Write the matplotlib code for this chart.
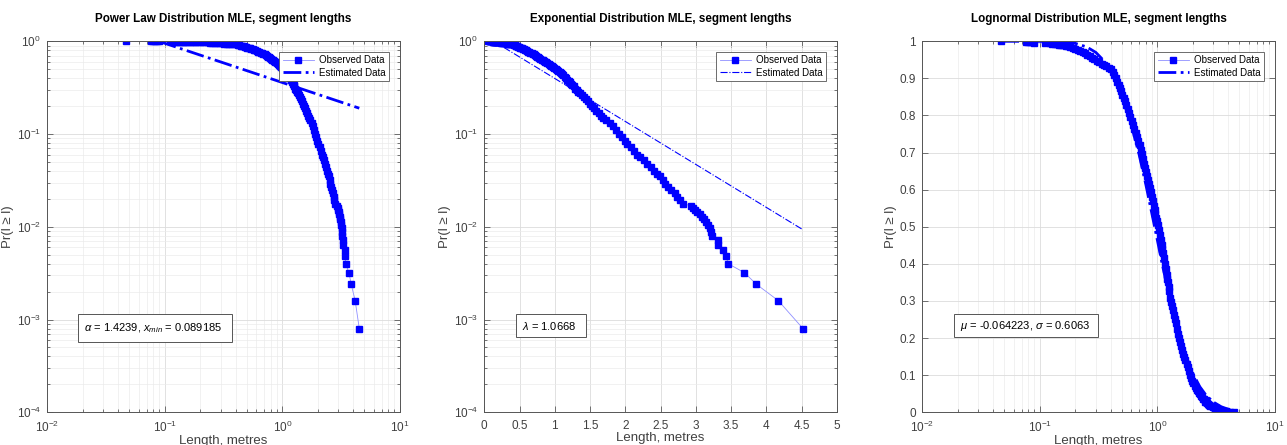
import numpy as np
import matplotlib
matplotlib.use('Agg')
import matplotlib.pyplot as plt
from matplotlib.patches import Rectangle
from matplotlib.ticker import FuncFormatter

plt.rcParams['font.family'] = ['Liberation Sans', 'DejaVu Sans']
plt.rcParams['mathtext.fontset'] = 'custom'
plt.rcParams['mathtext.rm'] = 'Liberation Sans'
plt.rcParams['mathtext.it'] = 'Liberation Sans:italic'
plt.rcParams['axes.unicode_minus'] = False

# Observed CCDF of segment lengths
obs_x = [0.047, 0.077, 0.080, 0.083, 0.086, 0.089, 0.111,
         0.122, 0.128, 0.134, 0.140, 0.146, 0.152, 0.159, 0.166, 0.174, 0.182,
         0.191, 0.200, 0.210, 0.220, 0.231, 0.242, 0.254, 0.266, 0.279, 0.292,
         0.306, 0.321, 0.336, 0.352, 0.369, 0.386, 0.403, 0.420,
         0.432, 0.444, 0.456, 0.468, 0.479, 0.492, 0.505, 0.518, 0.531, 0.545,
         0.559, 0.574, 0.589, 0.605, 0.621, 0.638, 0.655, 0.672, 0.690, 0.708,
         0.722, 0.736, 0.751, 0.765, 0.780, 0.796, 0.812, 0.828, 0.844, 0.860,
         0.877, 0.895, 0.913, 0.931, 0.950, 0.965, 0.980, 0.995, 1.01,
         1.03, 1.05, 1.07, 1.09, 1.105, 1.12, 1.14, 1.16, 1.18, 1.20, 1.215,
         1.23, 1.25, 1.27, 1.29, 1.31, 1.335, 1.36, 1.385, 1.41, 1.44, 1.47,
         1.50, 1.53, 1.56, 1.59, 1.62, 1.65, 1.69, 1.73, 1.78, 1.83, 1.87,
         1.91, 1.95, 1.99, 2.03, 2.08, 2.13, 2.17, 2.21, 2.26, 2.31, 2.36,
         2.40, 2.45, 2.49, 2.53, 2.57, 2.61, 2.65, 2.70, 2.74, 2.78, 2.82,
         2.93, 2.96, 2.99, 3.02, 3.06, 3.09, 3.12, 3.15, 3.18, 3.20, 3.22,
         3.23, 3.31, 3.31, 3.39, 3.43, 3.46, 3.69, 3.86, 4.17, 4.52]
obs_y = [1.0, 0.9992, 0.9984, 0.9976, 0.9968, 0.996, 0.9952,
         0.9944, 0.9936, 0.9928, 0.992, 0.991, 0.990, 0.989, 0.988, 0.986, 0.984,
         0.982, 0.980, 0.977, 0.974, 0.971, 0.968, 0.964, 0.960, 0.956, 0.952,
         0.948, 0.944, 0.940, 0.937, 0.933, 0.929, 0.924, 0.918,
         0.909, 0.900, 0.891, 0.882, 0.874, 0.865, 0.856, 0.847, 0.838, 0.829,
         0.818, 0.808, 0.797, 0.786, 0.775, 0.764, 0.753, 0.742, 0.731, 0.721,
         0.708, 0.696, 0.683, 0.670, 0.658, 0.647, 0.636, 0.626, 0.615, 0.605,
         0.593, 0.581, 0.569, 0.557, 0.545, 0.535, 0.525, 0.515, 0.505,
         0.491, 0.477, 0.464, 0.450, 0.440, 0.430, 0.415, 0.400, 0.385, 0.371, 0.360,
         0.350, 0.338, 0.326, 0.309, 0.297, 0.286, 0.275, 0.263, 0.252, 0.240, 0.225,
         0.210, 0.199, 0.189, 0.179, 0.168, 0.158, 0.150, 0.142, 0.131, 0.121, 0.110,
         0.100, 0.092, 0.084, 0.078, 0.072, 0.065, 0.060, 0.057, 0.052, 0.048, 0.044,
         0.040, 0.037, 0.035, 0.032, 0.029, 0.027, 0.025, 0.023, 0.021, 0.0195, 0.0178,
         0.0168, 0.0160, 0.0152, 0.0144, 0.0136, 0.0128, 0.0120, 0.0112, 0.0104, 0.0096, 0.0088,
         0.0080, 0.0072, 0.0064, 0.0056, 0.0048, 0.0040, 0.0032, 0.0024, 0.0016, 0.0008]

# Fitted curves
pl_x = [0.089, 4.52]
pl_y = [1.0, 0.19]
exp_x = [0.135, 4.52]
exp_y = [1.0, 0.0093]
ln_x = [0.047, 0.1, 0.15, 0.2, 0.25, 0.3, 0.35, 0.4, 0.45, 0.5, 0.6, 0.7, 0.8,
        0.9, 1.0, 1.1, 1.2, 1.35, 1.5, 1.7, 2.0, 2.3, 2.6, 3.0, 3.5, 4.0, 4.52]
ln_y = [1.0, 0.9999, 0.9987, 0.9946, 0.985, 0.970, 0.948, 0.920, 0.887, 0.850,
        0.775, 0.695, 0.613, 0.535, 0.465, 0.400, 0.345, 0.276, 0.219, 0.163,
        0.106, 0.069, 0.046, 0.0276, 0.015, 0.0084, 0.0048]

titles = ['Power Law Distribution MLE, segment lengths',
          'Exponential Distribution MLE, segment lengths',
          'Lognormal Distribution MLE, segment lengths']
params = [r'$\alpha$ = 1.4239, $x_{min}$ = 0.089185',
          r'$\lambda$ = 1.0668',
          r'$\mu$ = -0.064223, $\sigma$ = 0.6063']

fig = plt.figure(figsize=(12.87, 4.45), dpi=100)
lefts = [47.3 / 1287, 484.3 / 1287, 922.3 / 1287]
axes = [fig.add_axes([l, 32.7 / 445, 352.5 / 1287, 371 / 445]) for l in lefts]

obs_style = dict(color='#8f8fff', lw=0.6, marker='s', ms=3.8,
                 mfc='blue', mec='blue', label='Observed Data')

# panel 1: power law
ax = axes[0]
ax.loglog(obs_x, obs_y, **obs_style)
ax.loglog(pl_x, pl_y, color='blue', lw=2, ls='-.', label='Estimated Data')
ax.set_xlim(1e-2, 1e1)
ax.set_ylim(1e-4, 1)

# panel 2: exponential
ax = axes[1]
ax.semilogy(obs_x, obs_y, **obs_style)
ax.semilogy(exp_x, exp_y, color='blue', lw=0.8, ls='-.', label='Estimated Data')
ax.set_xlim(0, 5)
ax.set_ylim(1e-4, 1)
ax.set_xticks(np.arange(0, 5.01, 0.5))
ax.xaxis.set_major_formatter(FuncFormatter(lambda v, p: '%g' % v))

# panel 3: lognormal
ax = axes[2]
ax.semilogx(obs_x, obs_y, **obs_style)
ax.semilogx(ln_x, ln_y, color='blue', lw=2, ls='-.', label='Estimated Data')
ax.set_xlim(1e-2, 1e1)
ax.set_ylim(0, 1)
ax.set_yticks(np.arange(0, 1.01, 0.1))
ax.yaxis.set_major_formatter(FuncFormatter(lambda v, p: '%g' % round(v, 1)))

box_w = [0.436, 0.199, 0.408]
box_y = [0.19, 0.202, 0.202]
box_h = [0.074, 0.062, 0.062]
for i, ax in enumerate(axes):
    ax.set_title(titles[i], fontsize=8.4, fontweight='bold', pad=14)
    ax.set_xlabel('Length, metres', fontsize=9.5, color='#404040', labelpad=0)
    ax.set_ylabel('Pr(l ≥ l)', fontsize=9.5, color='#404040', labelpad=2)
    ax.grid(True, which='major', color='#dcdcdc', lw=0.6)
    ax.grid(True, which='minor', color='#ebebeb', lw=0.5)
    ax.set_axisbelow(True)
    ax.tick_params(which='both', direction='in', top=True, right=True,
                   labelsize=8.5, colors='#404040', width=0.5)
    ax.tick_params(which='major', length=4)
    ax.tick_params(which='minor', length=2)
    ax.tick_params(axis='x', which='major', pad=5.5)
    ax.tick_params(axis='y', which='major', pad=4.5)
    for s in ax.spines.values():
        s.set_color('#555555')
        s.set_linewidth(0.7)
    leg = ax.legend(loc='upper right', bbox_to_anchor=(0.969, 0.972),
                    borderaxespad=0, fontsize=7, fancybox=False,
                    edgecolor='#555555', framealpha=1, handlelength=3.2,
                    handletextpad=0.5, borderpad=0.35, labelspacing=0.25,
                    numpoints=1)
    leg.get_frame().set_linewidth(0.6)
    # parameter text box
    x0 = 0.088 if i == 0 else 0.09
    ax.add_patch(Rectangle((x0, box_y[i]), box_w[i], box_h[i], transform=ax.transAxes,
                           facecolor='white', edgecolor='#555555', lw=0.7, zorder=5))
    ax.text(x0 + 0.016, box_y[i] + box_h[i] / 2, params[i], transform=ax.transAxes,
            fontsize=8, va='center', ha='left', zorder=6)

fig.savefig('out.png', dpi=100)
